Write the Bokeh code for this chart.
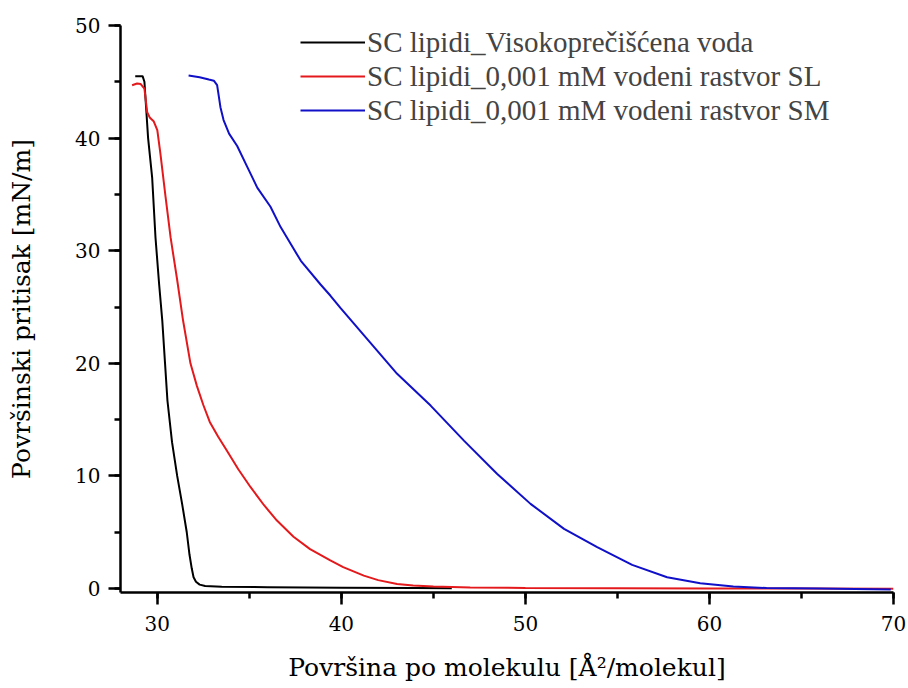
from bokeh.plotting import figure
from bokeh.models import Legend, LegendItem, SingleIntervalTicker, Range1d
from bokeh.embed import file_html
from bokeh.resources import INLINE

# Data
black_x = [28.8, 29.0, 29.2, 29.3, 29.4, 29.5, 29.72, 29.9, 30.1, 30.27, 30.42, 30.55, 30.8, 31.08,
           31.35, 31.6, 31.75, 31.87, 31.97, 32.1, 32.3, 32.6, 33.5, 36.0, 40.0, 44.0, 46.0]
black_y = [45.5, 45.5, 45.5, 45.0, 42.5, 40.0, 36.5, 31.2, 27.0, 23.8, 20.0, 16.7, 13.0, 10.0,
           7.5, 5.0, 3.0, 1.8, 1.0, 0.6, 0.35, 0.22, 0.15, 0.12, 0.08, 0.05, 0.03]

red_x = [28.63, 28.9, 29.1, 29.3, 29.45, 29.6, 29.8, 30.0, 30.17, 30.45, 30.72, 31.08, 31.4, 31.8,
         32.15, 32.5, 32.85, 33.3, 33.8, 34.4, 35.07, 35.8, 36.5, 37.4, 38.3, 39.4, 40.1, 41.22,
         42.0, 43.03, 43.9, 45.0, 47.0, 50.0, 55.0, 60.0, 65.0, 70.0]
red_y = [44.7, 44.85, 44.8, 44.4, 42.3, 41.8, 41.5, 40.7, 38.6, 34.75, 31.2, 27.4, 23.8, 20.0,
         18.0, 16.3, 14.8, 13.5, 12.2, 10.6, 9.0, 7.4, 6.04, 4.6, 3.5, 2.5, 1.9, 1.15,
         0.75, 0.41, 0.27, 0.18, 0.1, 0.05, 0.02, 0.0, 0.0, -0.02]

blue_x = [31.7, 32.3, 32.8, 33.07, 33.25, 33.43, 33.6, 33.9, 34.34, 34.9, 35.43, 36.15, 36.7, 37.8,
          38.87, 39.41, 39.96, 41.22, 43.03, 44.85, 46.66, 48.47, 50.28, 52.1, 53.9, 55.8, 57.7,
          59.5, 61.3, 63.1, 66.0, 69.85]
blue_y = [45.55, 45.4, 45.2, 45.1, 44.7, 42.75, 41.6, 40.4, 39.3, 37.4, 35.6, 33.9, 32.1, 29.1,
          27.0, 26.0, 24.9, 22.5, 19.07, 16.25, 13.14, 10.18, 7.52, 5.3, 3.67, 2.1, 1.0,
          0.47, 0.18, 0.05, 0.0, -0.08]

labels = ["SC lipidi_Visokoprečišćena voda",
          "SC lipidi_0,001 mM vodeni rastvor SL",
          "SC lipidi_0,001 mM vodeni rastvor SM"]
x_label = "Površina po molekulu [Å²/molekul]"
y_label = "Površinski pritisak [mN/m]"

FONT = "Liberation Serif"
AXFONT = "DejaVu Serif"

p = figure(width=908, height=688, output_backend="svg", toolbar_location=None,
           x_range=Range1d(28, 70), y_range=Range1d(-0.35, 50),
           min_border_left=120, min_border_right=15, min_border_top=25, min_border_bottom=96)
p.outline_line_color = None
p.xgrid.visible = False
p.ygrid.visible = False
p.background_fill_color = "white"
p.border_fill_color = "white"

r1 = p.line(black_x, black_y, line_color="#000000", line_width=2)
r2 = p.line(red_x, red_y, line_color="#e3191c", line_width=2)
r3 = p.line(blue_x, blue_y, line_color="#1010c8", line_width=2)

p.axis.ticker = SingleIntervalTicker(interval=10, num_minor_ticks=2)
p.axis.axis_line_width = 2.5
p.axis.major_tick_line_width = 2.5
p.axis.minor_tick_line_width = 2.5
p.axis.major_tick_in = 0
p.axis.major_tick_out = 12
p.axis.minor_tick_in = 0
p.axis.minor_tick_out = 6
p.axis.major_label_text_font = AXFONT
p.axis.major_label_text_font_size = "20px"
p.axis.major_label_text_color = "#000000"
p.axis.axis_label_text_font = AXFONT
p.axis.axis_label_text_font_size = "25px"
p.axis.axis_label_text_font_style = "normal"
p.axis.axis_label_text_color = "#000000"

p.xaxis.axis_label = x_label
p.yaxis.axis_label = y_label
p.xaxis.major_label_standoff = 11
p.xaxis.axis_label_standoff = 19
p.yaxis.major_label_standoff = 8
p.yaxis.axis_label_standoff = 36

legend = Legend(items=[LegendItem(label=labels[0], renderers=[r1]),
                       LegendItem(label=labels[1], renderers=[r2]),
                       LegendItem(label=labels[2], renderers=[r3])],
                location=(180, 465))
legend.label_text_font = FONT
legend.label_text_font_size = "29px"
legend.glyph_width = 65
legend.glyph_height = 34
legend.label_height = 34
legend.label_standoff = 2
legend.spacing = 0
legend.padding = 0
legend.margin = 0
legend.border_line_color = None
legend.background_fill_alpha = 0
p.add_layout(legend, "center")

open("out.html", "w").write(file_html(p, INLINE))
